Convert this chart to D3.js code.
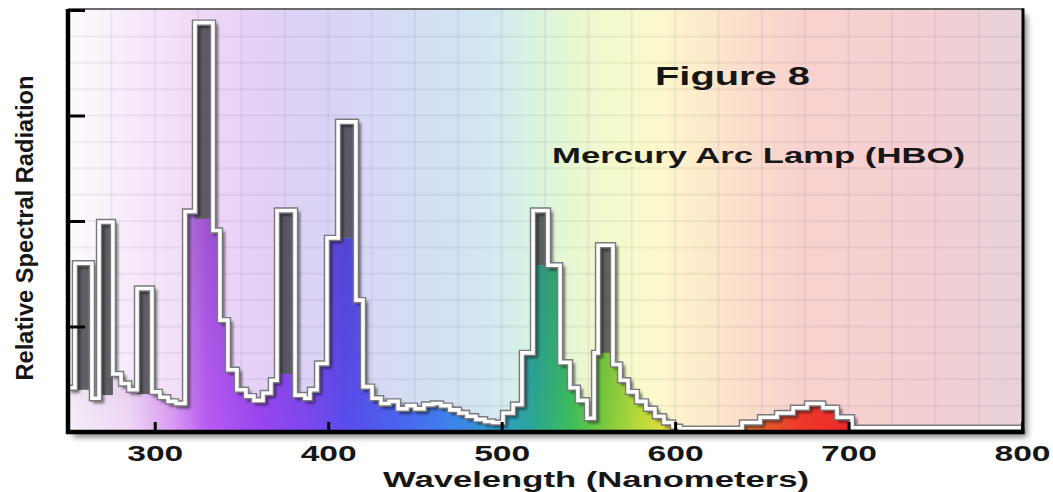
<!DOCTYPE html>
<html>
<head>
<meta charset="utf-8">
<script src="https://cdnjs.cloudflare.com/ajax/libs/d3/7.8.5/d3.min.js"></script>
<style>
html, body { margin:0; padding:0; background:#fff; }
svg { display:block; }
text { font-family: "Liberation Sans", Arial, Helvetica, sans-serif; font-weight: bold; fill: #161616; }
</style>
</head>
<body>
<div id="chart"></div>
<script>

// step edges in nm (one more than the levels)
var stepEdges = [250, 254, 263.8, 267.9, 275.9, 280.6, 285.2, 289.8, 298.4, 303, 307.7, 312.3,
  317.5, 323.2, 333.6, 337.6, 342.2, 347.4, 352.6, 357.2, 362.4, 367, 370.5, 380.9, 386.6, 389.5,
  393.6, 399.3, 405.7, 416, 420.1, 425.3, 430.5, 435.1, 440.3, 445.4, 450.1, 455.2, 460.4, 465,
  470.2, 475.4, 480, 485.2, 490.4, 495, 500.8, 506.6, 511.7, 518.1, 526.7, 533.7, 539.4, 544,
  549.2, 553.3, 555.6, 564.2, 568.3, 572.9, 578, 583.2, 588.4, 593.6, 598.8, 602.8, 638.6, 649,
  658.8, 668, 676.1, 685.3, 693.4, 702, 800];

// outline level of every step
var radiation = [0.42, 1.60, 0.32, 1.99, 0.55, 0.46, 0.40, 1.36, 0.38, 0.33, 0.29, 0.27,
  2.09, 3.88, 1.91, 1.06, 0.59, 0.40, 0.34, 0.30, 0.37, 0.49, 2.10, 0.35, 0.32,
  0.40, 0.65, 1.84, 2.94, 1.25, 0.43, 0.32, 0.27, 0.29, 0.22, 0.25, 0.22, 0.26, 0.27,
  0.25, 0.21, 0.18, 0.15, 0.12, 0.10, 0.09, 0.18, 0.26, 0.75, 2.10, 1.58, 0.66, 0.42,
  0.30, 0.13, 0.75, 1.77, 0.64, 0.49, 0.38, 0.29, 0.22, 0.15, 0.09, 0.05, 0.03, 0.09,
  0.14, 0.18, 0.23, 0.27, 0.23, 0.14, 0.04];

// coloured continuum under the emission lines
var continuum = [0.42, 0.40, 0.32, 0.35, 0.55, 0.46, 0.40, 0.36, 0.38, 0.33, 0.29, 0.27,
  2.09, 2.02, 1.91, 1.06, 0.59, 0.40, 0.34, 0.30, 0.37, 0.49, 0.55, 0.35, 0.32,
  0.40, 0.65, 1.84, 1.84, 1.25, 0.43, 0.32, 0.27, 0.29, 0.22, 0.25, 0.22, 0.26, 0.27,
  0.25, 0.21, 0.18, 0.15, 0.12, 0.10, 0.09, 0.18, 0.26, 0.75, 1.58, 1.58, 0.66, 0.42,
  0.30, 0.13, 0.75, 0.75, 0.64, 0.49, 0.38, 0.29, 0.22, 0.15, 0.09, 0.05, 0.03, 0.09,
  0.14, 0.18, 0.23, 0.27, 0.23, 0.14, 0.04];

var xTicks = [300, 400, 500, 600, 700, 800];
var yTicks = [1, 2, 3, 4];

var chartTitle = "Figure 8";
var chartSubtitle = "Mercury Arc Lamp (HBO)";
var xTitle = "Wavelength (Nanometers)";
var yTitle = "Relative Spectral Radiation";

// colour stops (nm, colour)
var paleStops = [[250,"#fdfbfd"],[272,"#f9f1fb"],[300,"#f4e4f9"],[330,"#eed7f8"],[360,"#e4d1f6"],
  [390,"#dad2f5"],[430,"#d6daf5"],[470,"#d3e1f3"],[495,"#d2e9f0"],[515,"#d8f2e3"],[535,"#e4f6d4"],
  [560,"#f3f9cc"],[590,"#fcf9cc"],[615,"#fdebcb"],[640,"#fbdecb"],[670,"#f9d2cf"],[720,"#f6cfd1"],
  [770,"#efd0d5"],[800,"#e8d2d9"]];
var spectrumStops = [[250,"#f7f0fa"],[285,"#f0d8f7"],[310,"#dc9cf4"],[330,"#b85cf2"],[360,"#9a46f0"],
  [390,"#7a48ee"],[410,"#5a4cee"],[440,"#4a64f0"],[470,"#3f82ee"],[500,"#2fa0c8"],[520,"#2ca890"],
  [540,"#3cbf5a"],[560,"#7ccc3c"],[580,"#bcdc3a"],[600,"#eee040"],[630,"#e88a30"],[650,"#e4602c"],
  [670,"#f03a2a"],[700,"#ee2a28"],[800,"#e02a2a"]];

var W = 1053, H = 492;

var x = d3.scaleLinear().domain([250, 800]).range([68, 1022]);
var y = d3.scaleLinear().domain([0, 4]).range([432, 10]);

var svg = d3.select("#chart").append("svg")
    .attr("width", W)
    .attr("height", H);

var defs = svg.append("defs");

var addHGrad = function(id, stops){
    var g = defs.append("linearGradient")
        .attr("id", id)
        .attr("gradientUnits", "userSpaceOnUse")
        .attr("x1", x(250)).attr("x2", x(800))
        .attr("y1", 0).attr("y2", 0);
    g.selectAll("stop").data(stops).enter().append("stop")
        .attr("offset", function(d){ return (d[0]-250)/550; })
        .attr("stop-color", function(d){ return d[1]; });
};
addHGrad("bgGrad", paleStops);
addHGrad("specGrad", spectrumStops);

var shade = defs.append("linearGradient")
    .attr("id", "shade")
    .attr("gradientUnits", "userSpaceOnUse")
    .attr("x1", 0).attr("x2", 0).attr("y1", 0).attr("y2", y(0));
shade.append("stop").attr("offset", 0).attr("stop-color", "#302850").attr("stop-opacity", 0.4);
shade.append("stop").attr("offset", 1).attr("stop-color", "#302850").attr("stop-opacity", 0);

defs.append("filter").attr("id", "blur3")
    .attr("x", "-10%").attr("y", "-10%").attr("width", "120%").attr("height", "120%")
    .append("feGaussianBlur").attr("stdDeviation", 3);
defs.append("filter").attr("id", "blur1")
    .attr("x", "-10%").attr("y", "-10%").attr("width", "120%").attr("height", "120%")
    .append("feGaussianBlur").attr("stdDeviation", 1.5);

defs.append("clipPath").attr("id", "plotClip")
    .append("rect")
    .attr("x", x(250)).attr("y", y(4))
    .attr("width", x(800)-x(250)).attr("height", y(0)-y(4));

/** frame shadow + background **/
svg.append("rect")
    .attr("x", x(250)).attr("y", y(4))
    .attr("width", x(800)-x(250)).attr("height", y(0)-y(4))
    .attr("transform", "translate(5,5)")
    .style("fill", "#000")
    .style("opacity", 0.5)
    .attr("filter", "url(#blur3)");

svg.append("rect")
    .attr("x", x(250)).attr("y", y(4))
    .attr("width", x(800)-x(250)).attr("height", y(0)-y(4))
    .style("fill", "url(#bgGrad)");

var plot = svg.append("g").attr("clip-path", "url(#plotClip)");

// grid
var grid = plot.append("g").attr("class", "grid");
grid.selectAll(".vgrid")
    .data(d3.range(275, 800, 25))
    .enter().append("line")
    .attr("x1", function(d){ return x(d); })
    .attr("x2", function(d){ return x(d); })
    .attr("y1", y(4)).attr("y2", y(0))
    .style("stroke", "#5a4a70")
    .style("stroke-opacity", 0.08)
    .style("stroke-width", 2);
grid.selectAll(".hgrid")
    .data(d3.range(0.25, 4, 0.25))
    .enter().append("line")
    .attr("x1", x(250)).attr("x2", x(800))
    .attr("y1", function(d){ return y(d); })
    .attr("y2", function(d){ return y(d); })
    .style("stroke", "#5a4a70")
    .style("stroke-opacity", 0.08)
    .style("stroke-width", 2);

/** spectrum data **/
var steps = radiation.map(function(v, i){
    return {nm: stepEdges[i], end: stepEdges[i+1], v: v, c: continuum[i]};
});
var pts = steps.concat([{nm: stepEdges[stepEdges.length-1], v: radiation[radiation.length-1], c: continuum[continuum.length-1]}]);

var area = d3.area()
    .x(function(d){ return x(d.nm); })
    .y0(y(0))
    .y1(function(d){ return y(d.c); })
    .curve(d3.curveStepAfter);

var line = d3.line()
    .x(function(d){ return x(d.nm); })
    .y(function(d){ return y(d.v); })
    .curve(d3.curveStepAfter);

plot.append("path").datum(pts)
    .attr("d", area)
    .style("fill", "url(#specGrad)");
plot.append("path").datum(pts)
    .attr("d", area)
    .style("fill", "url(#shade)");

// emission line columns
plot.selectAll(".peak")
    .data(steps.filter(function(d){ return d.v > d.c; }))
    .enter().append("rect")
    .attr("class", "peak")
    .attr("x", function(d){ return x(d.nm); })
    .attr("width", function(d){ return x(d.end) - x(d.nm); })
    .attr("y", function(d){ return y(d.v); })
    .attr("height", function(d){ return y(d.c) - y(d.v); })
    .style("fill", "#36363c")
    .style("fill-opacity", 0.78);

// outline: shadow, grey edge, white line
plot.append("path").datum(pts)
    .attr("d", line)
    .attr("transform", "translate(3,3)")
    .attr("filter", "url(#blur1)")
    .style("fill", "none")
    .style("stroke", "#000")
    .style("stroke-opacity", 0.55)
    .style("stroke-width", 4);
plot.append("path").datum(pts)
    .attr("d", line)
    .style("fill", "none")
    .style("stroke", "#7a7a7e")
    .style("stroke-width", 6.5);
plot.append("path").datum(pts)
    .attr("d", line)
    .style("fill", "none")
    .style("stroke", "#ffffff")
    .style("stroke-width", 3.6);

/** frame **/
svg.append("line")
    .attr("x1", x(250)).attr("x2", x(800)+2)
    .attr("y1", y(4)-1).attr("y2", y(4)-1)
    .style("stroke", "#3a3a3a").style("stroke-width", 1.5);
svg.append("line")
    .attr("x1", x(800)+1).attr("x2", x(800)+1)
    .attr("y1", y(4)-1.5).attr("y2", y(0)+2)
    .style("stroke", "#000").style("stroke-width", 3);

var xAxis = d3.axisBottom(x)
    .tickValues(xTicks)
    .tickSizeInner(-10)
    .tickSizeOuter(0)
    .tickFormat(d3.format("d"));

var gx = svg.append("g")
    .attr("class", "xAxis")
    .attr("transform", "translate(0," + y(0) + ")")
    .call(xAxis);
gx.select(".domain")
    .attr("d", "M" + (x(250)-2) + ",0H" + (x(800)+2.5))
    .style("stroke", "#000").style("stroke-width", 4.5);
gx.selectAll(".tick line").style("stroke", "#000").style("stroke-width", 3);
gx.selectAll(".tick text")
    .attr("y", 13.5)
    .attr("dy", "0.71em")
    .attr("textLength", 56)
    .attr("lengthAdjust", "spacingAndGlyphs")
    .style("font-size", "22px")
    .style("font-family", "'Liberation Sans', Arial, sans-serif")
    .style("font-weight", "bold")
    .style("fill", "#161616");

var yAxis = d3.axisLeft(y)
    .tickValues(yTicks)
    .tickSizeInner(-17)
    .tickSizeOuter(0)
    .tickFormat("");

var gy = svg.append("g")
    .attr("class", "yAxis")
    .attr("transform", "translate(" + x(250) + ",0)")
    .call(yAxis);
gy.select(".domain")
    .attr("d", "M0," + (y(4)-1) + "V" + (y(0)+2))
    .style("stroke", "#000").style("stroke-width", 4.5);
gy.selectAll(".tick line").style("stroke", "#000").style("stroke-width", 3);

/** texts **/
svg.append("text")
    .attr("x", 383).attr("y", 486.5)
    .attr("textLength", 426)
    .attr("lengthAdjust", "spacingAndGlyphs")
    .style("font-size", "22.5px")
    .text(xTitle);

svg.append("text")
    .attr("transform", "translate(33,228) rotate(-90)")
    .attr("text-anchor", "middle")
    .attr("textLength", 305)
    .attr("lengthAdjust", "spacingAndGlyphs")
    .style("font-size", "24px")
    .text(yTitle);

svg.append("text")
    .attr("x", 655).attr("y", 84.5)
    .attr("textLength", 155)
    .attr("lengthAdjust", "spacingAndGlyphs")
    .style("font-size", "26px")
    .text(chartTitle);

svg.append("text")
    .attr("x", 552).attr("y", 163)
    .attr("textLength", 413)
    .attr("lengthAdjust", "spacingAndGlyphs")
    .style("font-size", "21.5px")
    .text(chartSubtitle);

</script>
</body>
</html>
